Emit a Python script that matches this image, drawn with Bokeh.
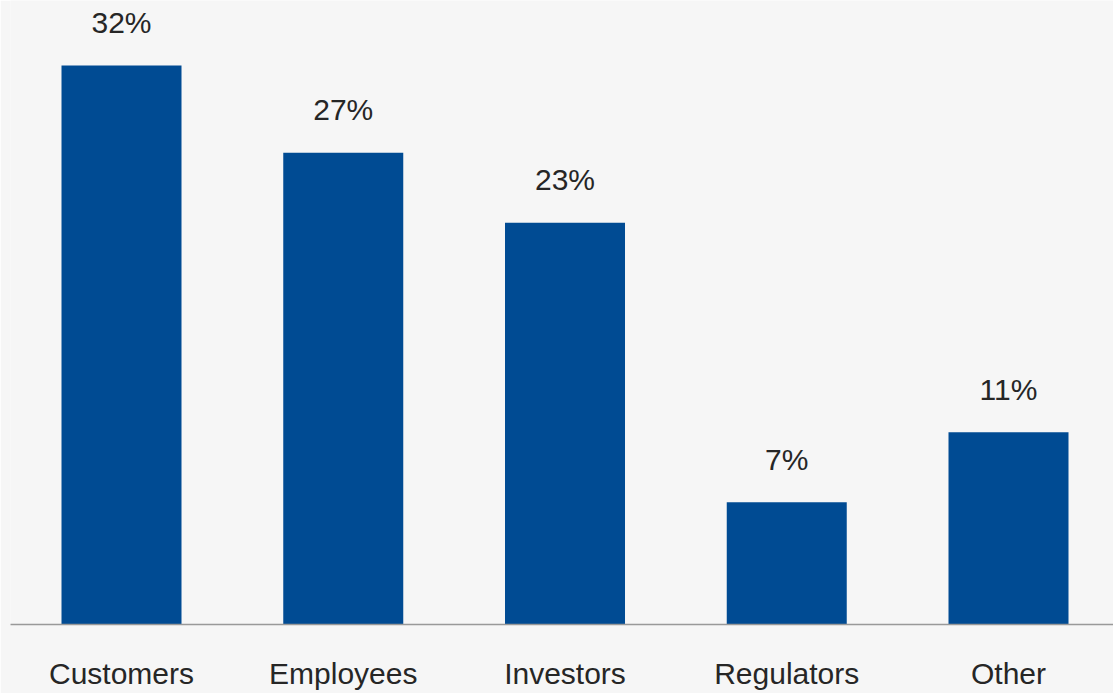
from bokeh.plotting import figure
from bokeh.models import Range1d, FixedTicker, LinearAxis, ColumnDataSource
from bokeh.core.properties import value
from bokeh.embed import file_html
from bokeh.resources import INLINE

categories = ["Customers", "Employees", "Investors", "Regulators", "Other"]
values = [32, 27, 23, 7, 11]
value_labels = ["32%", "27%", "23%", "7%", "11%"]

BG = "#f6f6f6"
BAR = "#004b93"
TEXT = "#262626"
FONT = "Liberation Sans"

px_per_unit = 17.47
label_gap_px = 43
frame_h = 624

xs = list(range(len(categories)))
src = ColumnDataSource(dict(
    x=xs,
    top=values,
    ly=[v + label_gap_px / px_per_unit for v in values],
    lab=value_labels,
))

p = figure(width=1113, height=693, output_backend="svg", toolbar_location=None,
           x_range=Range1d(-0.5006, 4.4735), y_range=Range1d(0, frame_h / px_per_unit),
           min_border_left=10, min_border_right=0, min_border_top=0, min_border_bottom=69,
           x_axis_location=None, y_axis_location=None)
p.background_fill_color = BG
p.border_fill_color = BG
p.outline_line_color = None
p.xgrid.visible = False
p.ygrid.visible = False

p.vbar(x="x", top="top", bottom=0, width=120 / 221.75, source=src,
       fill_color=BAR, line_color=None)

p.text(x="x", y="ly", text="lab", source=src, text_align="center",
       text_baseline="alphabetic", text_font=value(FONT), text_font_size="30px",
       text_color=TEXT)

ax = LinearAxis(ticker=FixedTicker(ticks=xs),
                major_label_overrides={i: c for i, c in zip(xs, categories)})
ax.axis_line_color = "#999999"
ax.axis_line_width = 1.5
ax.major_tick_line_color = None
ax.minor_tick_line_color = None
ax.major_tick_out = 0
ax.major_tick_in = 0
ax.minor_tick_out = 0
ax.major_label_standoff = 32
ax.major_label_text_font = FONT
ax.major_label_text_font_size = "30px"
ax.major_label_text_color = TEXT
p.add_layout(ax, "below")

html = file_html(p, INLINE)
html = html.replace("<body>", '<body style="background:%s">' % BG, 1)
open("out.html", "w").write(html)
